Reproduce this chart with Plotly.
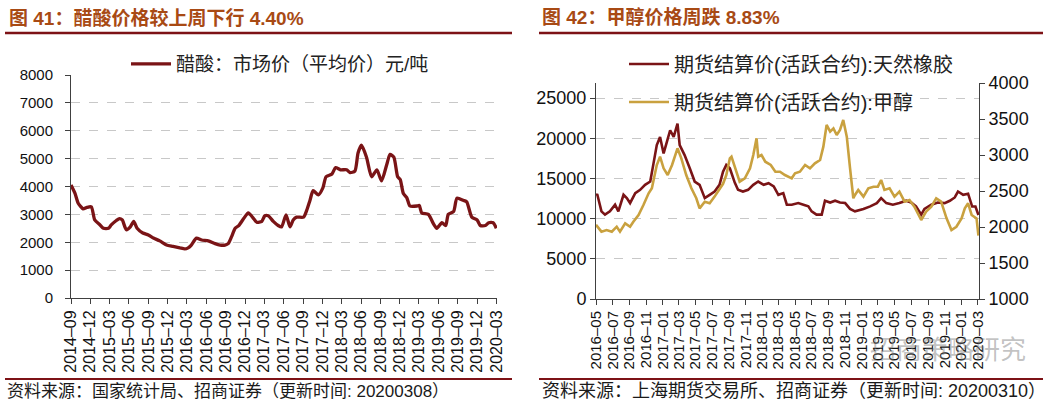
import plotly.graph_objects as go

W, H = 1056, 405

# ---------------- data: acetic acid (left chart) ----------------
acetic_dates = [
    "2014-09-01", "2014-09-20", "2014-10-05", "2014-10-28", "2014-11-15", "2014-12-06", "2014-12-22",
    "2015-01-15", "2015-02-01", "2015-02-25", "2015-03-10", "2015-04-03", "2015-04-18", "2015-05-01",
    "2015-05-20", "2015-06-08", "2015-06-24", "2015-07-10", "2015-08-06", "2015-09-01", "2015-09-25",
    "2015-10-25", "2015-11-26", "2015-12-27", "2016-01-28", "2016-02-20", "2016-03-07", "2016-03-22",
    "2016-04-15", "2016-05-10", "2016-06-10", "2016-07-12", "2016-08-05", "2016-08-28", "2016-09-12",
    "2016-09-28", "2016-10-15", "2016-11-01", "2016-11-24", "2016-12-16", "2017-01-10", "2017-01-25",
    "2017-02-18", "2017-03-04", "2017-03-20", "2017-04-13", "2017-05-06", "2017-05-22", "2017-06-12",
    "2017-07-01", "2017-07-16", "2017-08-01", "2017-09-03", "2017-09-18", "2017-10-03", "2017-10-18",
    "2017-11-12", "2017-12-03", "2017-12-18", "2018-01-15", "2018-02-01", "2018-02-24", "2018-03-25",
    "2018-04-10", "2018-05-03", "2018-05-18", "2018-06-03", "2018-06-27", "2018-07-21", "2018-08-15",
    "2018-09-06", "2018-10-01", "2018-10-16", "2018-11-03", "2018-11-21", "2018-12-03", "2018-12-18",
    "2019-01-03", "2019-01-18", "2019-02-20", "2019-03-03", "2019-03-15", "2019-04-15", "2019-05-10",
    "2019-05-25", "2019-06-18", "2019-07-06", "2019-07-18", "2019-08-12", "2019-08-28", "2019-09-28",
    "2019-10-13", "2019-11-06", "2019-12-01", "2019-12-16", "2020-01-09", "2020-01-25", "2020-02-15",
    "2020-03-01",
]
acetic_values = [
    4050, 3750, 3400, 3200, 3250, 3270, 2800,
    2630, 2500, 2500, 2620, 2780, 2850, 2800,
    2450, 2550, 2750, 2500, 2330, 2260, 2150,
    2050, 1900, 1850, 1800, 1760, 1800, 1900,
    2150, 2080, 2050, 1950, 1900, 1900, 1950,
    2200, 2500, 2600, 2850, 3050, 2850, 2720,
    2750, 2950, 2950, 2750, 2600, 2550, 2980,
    2550, 2800, 2900, 2900, 3150, 3500, 3850,
    3700, 3950, 4350, 4450, 4680, 4600, 4600,
    4500, 4550, 5200, 5480, 5050, 4350, 4600,
    4200, 4800, 5150, 5050, 4350, 4250, 3750,
    3600, 3300, 3300, 3320, 3050, 3000, 2650,
    2500, 2700, 2600, 3000, 3100, 3580, 3500,
    3450, 2900, 2800, 2600, 2600, 2700, 2700,
    2500,
]
left_tickvals = ["2014-09-01", "2014-12-01", "2015-03-01", "2015-06-01", "2015-09-01", "2015-12-01",
                 "2016-03-01", "2016-06-01", "2016-09-01", "2016-12-01", "2017-03-01", "2017-06-01",
                 "2017-09-01", "2017-12-01", "2018-03-01", "2018-06-01", "2018-09-01", "2018-12-01",
                 "2019-03-01", "2019-06-01", "2019-09-01", "2019-12-01", "2020-03-01"]
left_ticktext = [d[:7].replace("-", "–") for d in left_tickvals]

# ---------------- data: rubber & methanol (right chart) ----------------
rubber_dates = [
    "2016-05-01", "2016-05-06", "2016-05-21", "2016-06-03", "2016-06-21", "2016-07-10", "2016-07-22",
    "2016-08-10", "2016-08-22", "2016-09-03", "2016-09-22", "2016-10-10", "2016-10-28", "2016-11-16",
    "2016-11-28", "2016-12-10", "2016-12-22", "2017-01-04", "2017-01-16", "2017-01-28", "2017-02-10",
    "2017-02-24", "2017-03-04", "2017-03-22", "2017-04-10", "2017-04-28", "2017-05-16", "2017-06-04",
    "2017-06-22", "2017-07-10", "2017-07-28", "2017-08-10", "2017-08-22", "2017-09-04", "2017-09-22",
    "2017-10-04", "2017-10-22", "2017-11-10", "2017-11-29", "2017-12-17", "2018-01-06", "2018-01-24",
    "2018-02-12", "2018-03-01", "2018-03-19", "2018-04-01", "2018-04-19", "2018-05-13", "2018-06-01",
    "2018-06-19", "2018-07-01", "2018-07-19", "2018-08-07", "2018-08-19", "2018-09-07", "2018-09-25",
    "2018-10-13", "2018-11-01", "2018-11-19", "2018-12-07", "2019-01-07", "2019-02-01", "2019-02-25",
    "2019-03-13", "2019-04-01", "2019-04-25", "2019-05-19", "2019-06-13", "2019-07-01", "2019-07-19",
    "2019-08-07", "2019-08-19", "2019-09-13", "2019-10-07", "2019-11-01", "2019-11-20", "2019-12-08",
    "2019-12-20", "2020-01-08", "2020-01-26", "2020-02-10", "2020-02-22", "2020-03-04",
]
rubber_values = [
    13000, 12960, 10900, 10490, 10900, 11730, 10900,
    12960, 12550, 11930, 13170, 13580, 14200, 14610,
    16870, 19140, 20160, 18110, 19550, 20990, 20160,
    21810, 19140, 17900, 16260, 14610, 14200, 12550,
    12960, 13370, 14200, 15840, 16670, 16260, 14480,
    13580, 13370, 13580, 14200, 14610, 14200, 14400,
    14000, 12960, 13170, 11730, 11730, 11930, 11730,
    11520, 10900, 10490, 10490, 12220, 12000, 12220,
    12000, 11930, 11200, 10900, 11200, 11520, 11930,
    12550, 11930, 11730, 11930, 12220, 12000, 11520,
    10490, 11200, 11730, 12000, 11930, 12220, 12630,
    13370, 12960, 13100, 11500, 11500, 10450,
]
methanol_dates = [
    "2016-05-01", "2016-05-06", "2016-05-21", "2016-06-09", "2016-06-28", "2016-07-16", "2016-07-28",
    "2016-08-16", "2016-09-03", "2016-09-15", "2016-10-04", "2016-10-22", "2016-11-10", "2016-11-22",
    "2016-12-10", "2016-12-22", "2017-01-04", "2017-01-19", "2017-02-04", "2017-02-24", "2017-03-10",
    "2017-03-28", "2017-04-16", "2017-05-04", "2017-05-16", "2017-06-04", "2017-06-22", "2017-07-10",
    "2017-07-28", "2017-08-10", "2017-08-22", "2017-09-04", "2017-09-10", "2017-09-28", "2017-10-10",
    "2017-10-29", "2017-11-17", "2017-11-29", "2017-12-11", "2017-12-17", "2017-12-29", "2018-01-12",
    "2018-02-01", "2018-02-18", "2018-03-07", "2018-03-25", "2018-04-19", "2018-05-01", "2018-05-19",
    "2018-06-07", "2018-06-25", "2018-07-13", "2018-08-01", "2018-08-13", "2018-08-25", "2018-09-07",
    "2018-09-19", "2018-10-01", "2018-10-13", "2018-10-25", "2018-11-07", "2018-11-19", "2018-12-01",
    "2018-12-07", "2018-12-19", "2019-01-07", "2019-01-25", "2019-02-13", "2019-03-01", "2019-03-13",
    "2019-03-25", "2019-04-13", "2019-05-01", "2019-05-19", "2019-06-07", "2019-06-25", "2019-07-13",
    "2019-08-07", "2019-08-25", "2019-09-13", "2019-10-01", "2019-10-19", "2019-11-08", "2019-11-26",
    "2019-12-14", "2020-01-02", "2020-01-14", "2020-01-26", "2020-02-08", "2020-02-26", "2020-03-04",
]
methanol_values = [
    2030, 2004, 1935, 1958, 1935, 2004, 1935,
    2051, 2004, 2074, 2167, 2306, 2468, 2537,
    2861, 2977, 2815, 2722, 2861, 3093, 2954,
    2722, 2537, 2399, 2259, 2352, 2329, 2422,
    2537, 2600, 2722, 2954, 2977, 2768, 2630,
    2676, 2815, 3000, 3232, 2977, 3000, 2907,
    2861, 2768, 2768, 2722, 2676, 2745, 2768,
    2861, 2815, 2884, 2931, 3116, 3417, 3324,
    3370, 3278, 3347, 3486, 3255, 2815, 2399,
    2445, 2514, 2422, 2537, 2560, 2560, 2653,
    2514, 2537, 2422, 2491, 2352, 2375, 2282,
    2097, 2213, 2282, 2399, 2352, 2120, 1958,
    2004, 2120, 2259, 2329, 2167, 2120, 1880,
]
right_tickvals = ["2016-05-01", "2016-07-01", "2016-09-01", "2016-11-01", "2017-01-01", "2017-03-01",
                  "2017-05-01", "2017-07-01", "2017-09-01", "2017-11-01", "2018-01-01", "2018-03-01",
                  "2018-05-01", "2018-07-01", "2018-09-01", "2018-11-01", "2019-01-01", "2019-03-01",
                  "2019-05-01", "2019-07-01", "2019-09-01", "2019-11-01", "2020-01-01", "2020-03-01"]
right_ticktext = [d[:7].replace("-", "–") for d in right_tickvals]

titles = ["图 41：醋酸价格较上周下行 4.40%", "图 42：甲醇价格周跌 8.83%"]
sources = ["资料来源：国家统计局、招商证券（更新时间: 20200308）",
           "资料来源：上海期货交易所、招商证券（更新时间: 20200310）"]
names = ["醋酸：市场价（平均价）元/吨", "期货结算价(活跃合约):天然橡胶", "期货结算价(活跃合约):甲醇"]

DARK = "#7a1416"
GOLD = "#c9a13f"
FONT = "Liberation Sans, Noto Sans CJK SC, sans-serif"

def px(x):
    return x / W

def py(y):
    return 1 - y / H

fig = go.Figure()
fig.add_trace(go.Scatter(x=acetic_dates, y=acetic_values, mode="lines", name=names[0],
                         line=dict(color=DARK, width=3.3, shape="spline", smoothing=0.6),
                         xaxis="x", yaxis="y", legend="legend"))
fig.add_trace(go.Scatter(x=rubber_dates, y=rubber_values, mode="lines", name=names[1],
                         line=dict(color=DARK, width=2.6),
                         xaxis="x2", yaxis="y2", legend="legend2"))
fig.add_trace(go.Scatter(x=methanol_dates, y=methanol_values, mode="lines", name=names[2],
                         line=dict(color=GOLD, width=2.6),
                         xaxis="x2", yaxis="y3", legend="legend3"))

axis_common = dict(showline=True, linecolor="#404040", linewidth=1, ticks="outside", ticklen=5,
                   tickcolor="#404040", zeroline=False, automargin=False,
                   tickfont=dict(family=FONT, color="#111"))

legend_common = dict(xanchor="left", yanchor="middle", bgcolor="rgba(0,0,0,0)", itemwidth=40)

fig.update_layout(
    width=W, height=H, margin=dict(l=0, r=0, t=0, b=0, autoexpand=False),
    paper_bgcolor="white", plot_bgcolor="white",
    font=dict(family=FONT, color="#111"),
    xaxis=dict(**axis_common, domain=[px(71), px(497)], anchor="y", type="date",
               range=["2014-09-01", "2020-03-04"], tickvals=left_tickvals, ticktext=left_ticktext,
               tickangle=-90, showgrid=False),
    yaxis=dict(**axis_common, domain=[py(298), py(75)], anchor="x", range=[0, 8000], dtick=1000,
               showgrid=True, gridcolor="#c8c8c8", griddash="dash", ticklabelstandoff=9),
    xaxis2=dict(**axis_common, domain=[px(596), px(979)], anchor="y2", type="date",
                range=["2016-05-01", "2020-03-06"], tickvals=right_tickvals, ticktext=right_ticktext,
                tickangle=-90, showgrid=False),
    yaxis2=dict(**axis_common, domain=[py(299), py(83)], anchor="x2", range=[0, 26866],
                tickvals=[0, 5000, 10000, 15000, 20000, 25000], tickformat="d",
                showgrid=True, gridcolor="#c8c8c8", griddash="dash"),
    yaxis3=dict(**axis_common, overlaying="y2", side="right", anchor="x2", range=[1000, 4000],
                dtick=500, tickformat="d", showgrid=False),
    legend=dict(**legend_common, x=px(126), y=py(64),
                font=dict(size=19, family=FONT, color="#222")),
    legend2=dict(**legend_common, x=px(624), y=py(64),
                 font=dict(size=20, family=FONT, color="#222")),
    legend3=dict(**legend_common, x=px(624), y=py(102),
                 font=dict(size=20, family=FONT, color="#222")),
    showlegend=True,
)
fig.update_xaxes(tickfont_size=16, selector=dict(anchor="y"))
fig.update_xaxes(tickfont_size=15, selector=dict(anchor="y2"))
fig.update_yaxes(tickfont_size=15, selector=dict(anchor="x"))
fig.layout.yaxis2.tickfont.size = 18
fig.layout.yaxis3.tickfont.size = 18

shapes = []
for x0, x1 in [(5, 512), (539, 1043)]:
    shapes.append(dict(type="line", xref="paper", yref="paper", x0=px(x0), x1=px(x1), y0=py(33), y1=py(33),
                       line=dict(color="#7d1216", width=2.5)))
    shapes.append(dict(type="line", xref="paper", yref="paper", x0=px(x0), x1=px(x1), y0=py(379), y1=py(379),
                       line=dict(color="#7d1216", width=2)))
fig.update_layout(shapes=shapes)

ann = []
for x0, t in [(7, titles[0]), (540, titles[1])]:
    ann.append(dict(xref="paper", yref="paper", x=px(x0), y=py(18), xanchor="left", yanchor="middle",
                    text="<b>" + t + "</b>", showarrow=False,
                    font=dict(size=19, family=FONT, color="#a84a14")))
for x0, t, s in [(5, sources[0], 17), (540, sources[1], 18)]:
    ann.append(dict(xref="paper", yref="paper", x=px(x0), y=py(391), xanchor="left", yanchor="middle",
                    text=t, showarrow=False, font=dict(size=s, family=FONT, color="#1a1a1a")))
ann.append(dict(xref="paper", yref="paper", x=px(1028), y=py(350), xanchor="right", yanchor="middle",
                text="招商策略研究", showarrow=False,
                font=dict(size=26, family=FONT, color="rgba(120,120,120,0.45)")))
fig.update_layout(annotations=ann)

fig.write_html("out.html")
